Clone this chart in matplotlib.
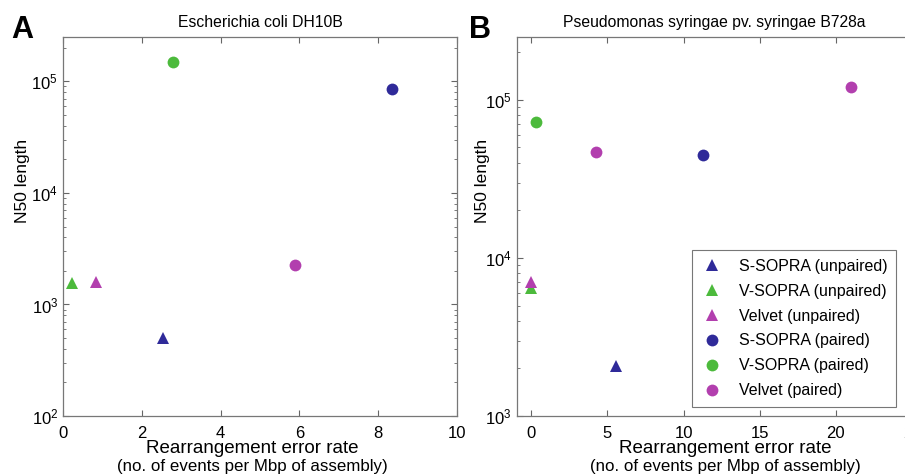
import matplotlib
matplotlib.use('Agg')
import matplotlib.pyplot as plt
from matplotlib.ticker import LogLocator, NullFormatter

plt.rcParams['font.family'] = ['Liberation Sans', 'DejaVu Sans']
plt.rcParams['mathtext.default'] = 'regular'

labels = ['S-SOPRA (unpaired)', 'V-SOPRA (unpaired)', 'Velvet (unpaired)',
          'S-SOPRA (paired)', 'V-SOPRA (paired)', 'Velvet (paired)']
colors = ['#2f2a99', '#4cba3c', '#b23fae', '#2f2a99', '#4cba3c', '#b23fae']
markers = ['^', '^', '^', 'o', 'o', 'o']

# panel A: E. coli DH10B  (one list of points per method)
ecoli_x = [[2.55], [0.22], [0.85], [8.35], [2.78], [5.9]]
ecoli_y = [[505], [1550], [1600], [85500], [150000], [2240]]

# panel B: P. syringae B728a
psyr_x = [[5.58], [0.0], [0.0], [11.3], [0.33], [4.27, 20.98]]
psyr_y = [[2070], [6430], [7080], [44700], [72600], [47100, 120000]]

fig = plt.figure(figsize=(9.05, 4.75), dpi=100)
W, H = 905, 475


def px(l, t, r, b):
    return [l / W, 1 - b / H, (r - l) / W, (b - t) / H]


axA = fig.add_axes(px(63, 37, 457, 416))
axB = fig.add_axes(px(516.7, 37, 912, 416))


def style(ax):
    ax.set_yscale('log')
    for s in ax.spines.values():
        s.set_color('#777777')
        s.set_linewidth(0.9)
    ax.tick_params(which='both', direction='in', top=True, right=True,
                   color='#666666', labelsize=12)
    ax.tick_params(axis='x', pad=7)
    ax.tick_params(which='major', length=4)
    ax.tick_params(which='minor', length=2)
    ax.tick_params(axis='x', which='minor', bottom=False, top=False)
    ax.yaxis.set_minor_locator(LogLocator(base=10, subs=range(2, 10)))
    ax.yaxis.set_minor_formatter(NullFormatter())


for ax, xs, ys in [(axA, ecoli_x, ecoli_y), (axB, psyr_x, psyr_y)]:
    style(ax)
    for x, y, c, m, lab in zip(xs, ys, colors, markers, labels):
        ax.plot(x, y, linestyle='none', marker=m, color=c, markersize=8.5,
                markeredgewidth=0, label=lab, clip_on=False)

axA.set_xlim(0, 10)
axA.set_ylim(1e2, 2.5e5)
axA.set_xticks([0, 2, 4, 6, 8, 10])
axA.set_title('Escherichia coli DH10B', fontsize=11.3, pad=7)

axB.set_xlim(-0.95, 25)
axB.set_ylim(1e3, 2.5e5)
axB.set_xticks([0, 5, 10, 15, 20, 25])
axB.set_title('Pseudomonas syringae pv. syringae B728a', fontsize=11.3, pad=7)

leg = axB.legend(loc='upper left',
                 bbox_to_anchor=((691.7 - 516.7) / (912 - 516.7), (416 - 250) / (416 - 37)),
                 fontsize=11.5, frameon=True, fancybox=False, edgecolor='#555555',
                 handletextpad=1.0, borderpad=0.55, labelspacing=0.62, handlelength=1.4,
                 borderaxespad=0)
leg.get_frame().set_linewidth(0.8)

# axis labels placed where they sit in the reference
for cx, lx in [(252, 22), (725, 482)]:
    fig.text(cx / W, 1 - 453 / H, 'Rearrangement error rate', fontsize=13.5,
             ha='center', va='baseline')
    fig.text(cx / W, 1 - 471 / H, '(no. of events per Mbp of assembly)', fontsize=12.2,
             ha='center', va='baseline')
    fig.text(lx / W, 1 - 181 / H, 'N50 length', fontsize=12.5, rotation=90,
             ha='center', va='center')

fig.text(11 / W, 1 - 38 / H, 'A', fontsize=22, fontweight='bold')
fig.text(469 / W, 1 - 38 / H, 'B', fontsize=22, fontweight='bold')

fig.savefig('out.png', dpi=100)
